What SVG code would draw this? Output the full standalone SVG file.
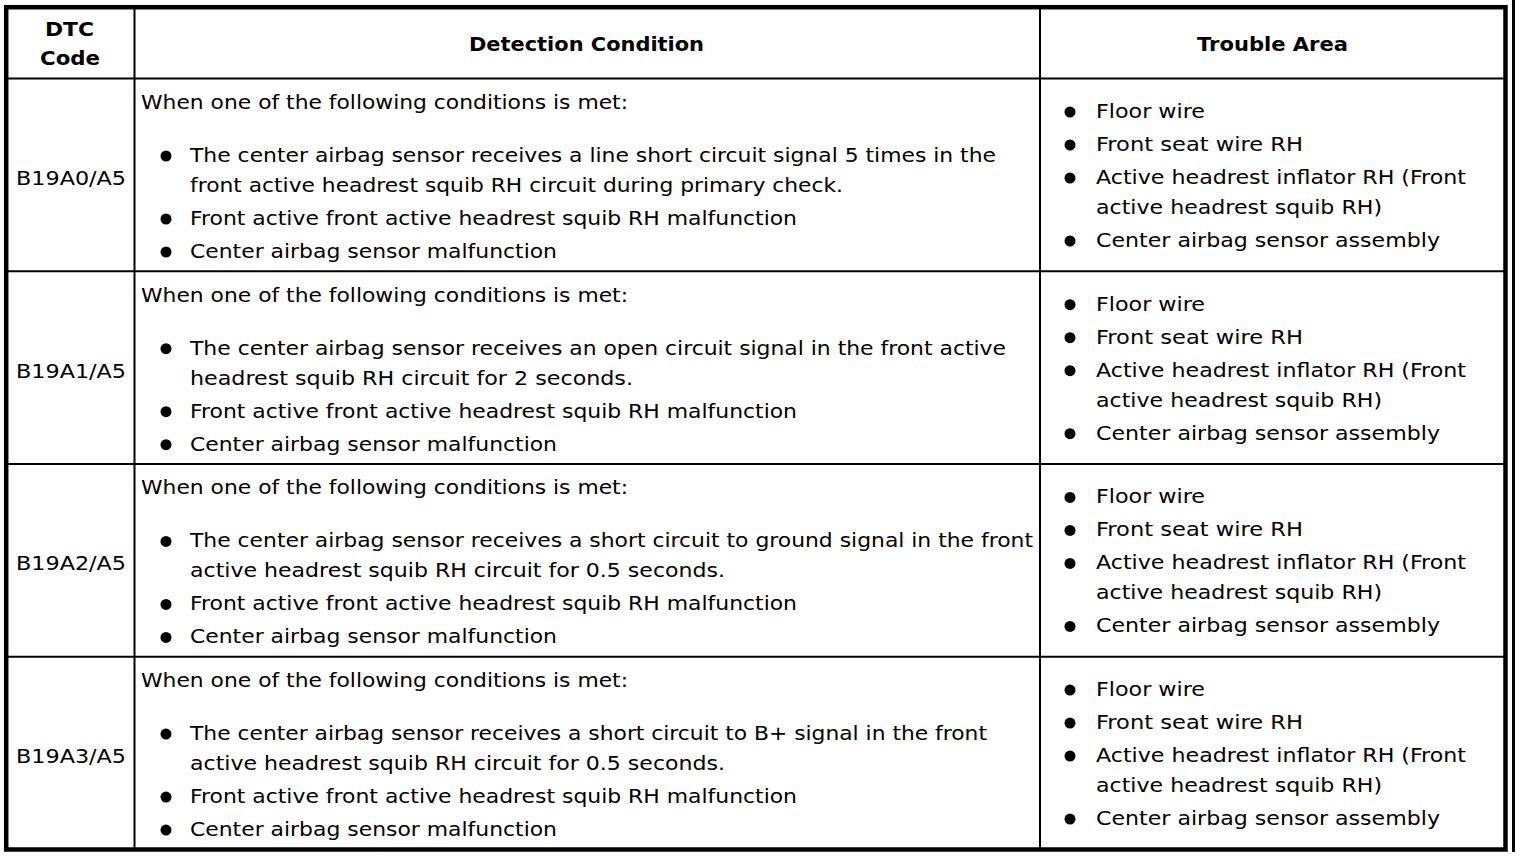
<svg xmlns="http://www.w3.org/2000/svg" width="1520" height="858" viewBox="0 0 1520 858">
<style>
text{font-family:"DejaVu Sans","Liberation Sans",Arial,sans-serif;font-size:19.5px;fill:#000}
.h{font-weight:bold}
.ln{stroke:#000;stroke-width:2;fill:none}
.b{fill:#000}
</style>
<rect width="1520" height="858" fill="#fff"/>
<g id="grid">
<rect x="6.2" y="7.2" width="1499.3" height="842.3" fill="none" stroke="#000" stroke-width="4.5"/>
<line x1="1513.5" y1="0" x2="1513.5" y2="852" stroke="#000" stroke-width="3"/>
<line class="ln" x1="134.5" y1="7" x2="134.5" y2="850"/>
<line class="ln" x1="1040" y1="7" x2="1040" y2="850"/>
<line class="ln" x1="6" y1="78.5" x2="1506" y2="78.5"/>
<line class="ln" x1="6" y1="271.2" x2="1506" y2="271.2"/>
<line class="ln" x1="6" y1="464" x2="1506" y2="464"/>
<line class="ln" x1="6" y1="656.7" x2="1506" y2="656.7"/>
</g>
<g id="header">
<text class="h" x="45" y="36" textLength="49" lengthAdjust="spacingAndGlyphs">DTC</text>
<text class="h" x="40" y="65" textLength="60" lengthAdjust="spacingAndGlyphs">Code</text>
<text class="h" x="469" y="51" textLength="235" lengthAdjust="spacingAndGlyphs">Detection Condition</text>
<text class="h" x="1197" y="51" textLength="151" lengthAdjust="spacingAndGlyphs">Trouble Area</text>
</g>
<g id="row1">
<text x="16" y="185" textLength="110" lengthAdjust="spacingAndGlyphs">B19A0/A5</text>
<text x="141" y="109" textLength="487" lengthAdjust="spacingAndGlyphs">When one of the following conditions is met:</text>
<circle class="b" cx="166" cy="156" r="5.5"/>
<text x="190" y="162" textLength="806" lengthAdjust="spacingAndGlyphs">The center airbag sensor receives a line short circuit signal 5 times in the</text>
<text x="190" y="192" textLength="653" lengthAdjust="spacingAndGlyphs">front active headrest squib RH circuit during primary check.</text>
<circle class="b" cx="166" cy="219" r="5.5"/>
<text x="190" y="225" textLength="607" lengthAdjust="spacingAndGlyphs">Front active front active headrest squib RH malfunction</text>
<circle class="b" cx="166" cy="252" r="5.5"/>
<text x="190" y="258" textLength="367" lengthAdjust="spacingAndGlyphs">Center airbag sensor malfunction</text>
<circle class="b" cx="1070" cy="112" r="5.5"/>
<text x="1096" y="118" textLength="109" lengthAdjust="spacingAndGlyphs">Floor wire</text>
<circle class="b" cx="1070" cy="145" r="5.5"/>
<text x="1096" y="151" textLength="207" lengthAdjust="spacingAndGlyphs">Front seat wire RH</text>
<circle class="b" cx="1070" cy="178" r="5.5"/>
<text x="1096" y="184" textLength="370" lengthAdjust="spacingAndGlyphs">Active headrest inflator RH (Front</text>
<text x="1096" y="214" textLength="286" lengthAdjust="spacingAndGlyphs">active headrest squib RH)</text>
<circle class="b" cx="1070" cy="241" r="5.5"/>
<text x="1096" y="247" textLength="344" lengthAdjust="spacingAndGlyphs">Center airbag sensor assembly</text>
</g>
<g id="row2" transform="translate(0,192.7)">
<text x="16" y="185" textLength="110" lengthAdjust="spacingAndGlyphs">B19A1/A5</text>
<text x="141" y="109" textLength="487" lengthAdjust="spacingAndGlyphs">When one of the following conditions is met:</text>
<circle class="b" cx="166" cy="156" r="5.5"/>
<text x="190" y="162" textLength="816" lengthAdjust="spacingAndGlyphs">The center airbag sensor receives an open circuit signal in the front active</text>
<text x="190" y="192" textLength="443" lengthAdjust="spacingAndGlyphs">headrest squib RH circuit for 2 seconds.</text>
<circle class="b" cx="166" cy="219" r="5.5"/>
<text x="190" y="225" textLength="607" lengthAdjust="spacingAndGlyphs">Front active front active headrest squib RH malfunction</text>
<circle class="b" cx="166" cy="252" r="5.5"/>
<text x="190" y="258" textLength="367" lengthAdjust="spacingAndGlyphs">Center airbag sensor malfunction</text>
<circle class="b" cx="1070" cy="112" r="5.5"/>
<text x="1096" y="118" textLength="109" lengthAdjust="spacingAndGlyphs">Floor wire</text>
<circle class="b" cx="1070" cy="145" r="5.5"/>
<text x="1096" y="151" textLength="207" lengthAdjust="spacingAndGlyphs">Front seat wire RH</text>
<circle class="b" cx="1070" cy="178" r="5.5"/>
<text x="1096" y="184" textLength="370" lengthAdjust="spacingAndGlyphs">Active headrest inflator RH (Front</text>
<text x="1096" y="214" textLength="286" lengthAdjust="spacingAndGlyphs">active headrest squib RH)</text>
<circle class="b" cx="1070" cy="241" r="5.5"/>
<text x="1096" y="247" textLength="344" lengthAdjust="spacingAndGlyphs">Center airbag sensor assembly</text>
</g>
<g id="row3" transform="translate(0,385.4)">
<text x="16" y="185" textLength="110" lengthAdjust="spacingAndGlyphs">B19A2/A5</text>
<text x="141" y="109" textLength="487" lengthAdjust="spacingAndGlyphs">When one of the following conditions is met:</text>
<circle class="b" cx="166" cy="156" r="5.5"/>
<text x="190" y="162" textLength="843" lengthAdjust="spacingAndGlyphs">The center airbag sensor receives a short circuit to ground signal in the front</text>
<text x="190" y="192" textLength="535" lengthAdjust="spacingAndGlyphs">active headrest squib RH circuit for 0.5 seconds.</text>
<circle class="b" cx="166" cy="219" r="5.5"/>
<text x="190" y="225" textLength="607" lengthAdjust="spacingAndGlyphs">Front active front active headrest squib RH malfunction</text>
<circle class="b" cx="166" cy="252" r="5.5"/>
<text x="190" y="258" textLength="367" lengthAdjust="spacingAndGlyphs">Center airbag sensor malfunction</text>
<circle class="b" cx="1070" cy="112" r="5.5"/>
<text x="1096" y="118" textLength="109" lengthAdjust="spacingAndGlyphs">Floor wire</text>
<circle class="b" cx="1070" cy="145" r="5.5"/>
<text x="1096" y="151" textLength="207" lengthAdjust="spacingAndGlyphs">Front seat wire RH</text>
<circle class="b" cx="1070" cy="178" r="5.5"/>
<text x="1096" y="184" textLength="370" lengthAdjust="spacingAndGlyphs">Active headrest inflator RH (Front</text>
<text x="1096" y="214" textLength="286" lengthAdjust="spacingAndGlyphs">active headrest squib RH)</text>
<circle class="b" cx="1070" cy="241" r="5.5"/>
<text x="1096" y="247" textLength="344" lengthAdjust="spacingAndGlyphs">Center airbag sensor assembly</text>
</g>
<g id="row4" transform="translate(0,578.1)">
<text x="16" y="185" textLength="110" lengthAdjust="spacingAndGlyphs">B19A3/A5</text>
<text x="141" y="109" textLength="487" lengthAdjust="spacingAndGlyphs">When one of the following conditions is met:</text>
<circle class="b" cx="166" cy="156" r="5.5"/>
<text x="190" y="162" textLength="797" lengthAdjust="spacingAndGlyphs">The center airbag sensor receives a short circuit to B+ signal in the front</text>
<text x="190" y="192" textLength="535" lengthAdjust="spacingAndGlyphs">active headrest squib RH circuit for 0.5 seconds.</text>
<circle class="b" cx="166" cy="219" r="5.5"/>
<text x="190" y="225" textLength="607" lengthAdjust="spacingAndGlyphs">Front active front active headrest squib RH malfunction</text>
<circle class="b" cx="166" cy="252" r="5.5"/>
<text x="190" y="258" textLength="367" lengthAdjust="spacingAndGlyphs">Center airbag sensor malfunction</text>
<circle class="b" cx="1070" cy="112" r="5.5"/>
<text x="1096" y="118" textLength="109" lengthAdjust="spacingAndGlyphs">Floor wire</text>
<circle class="b" cx="1070" cy="145" r="5.5"/>
<text x="1096" y="151" textLength="207" lengthAdjust="spacingAndGlyphs">Front seat wire RH</text>
<circle class="b" cx="1070" cy="178" r="5.5"/>
<text x="1096" y="184" textLength="370" lengthAdjust="spacingAndGlyphs">Active headrest inflator RH (Front</text>
<text x="1096" y="214" textLength="286" lengthAdjust="spacingAndGlyphs">active headrest squib RH)</text>
<circle class="b" cx="1070" cy="241" r="5.5"/>
<text x="1096" y="247" textLength="344" lengthAdjust="spacingAndGlyphs">Center airbag sensor assembly</text>
</g>
</svg>
